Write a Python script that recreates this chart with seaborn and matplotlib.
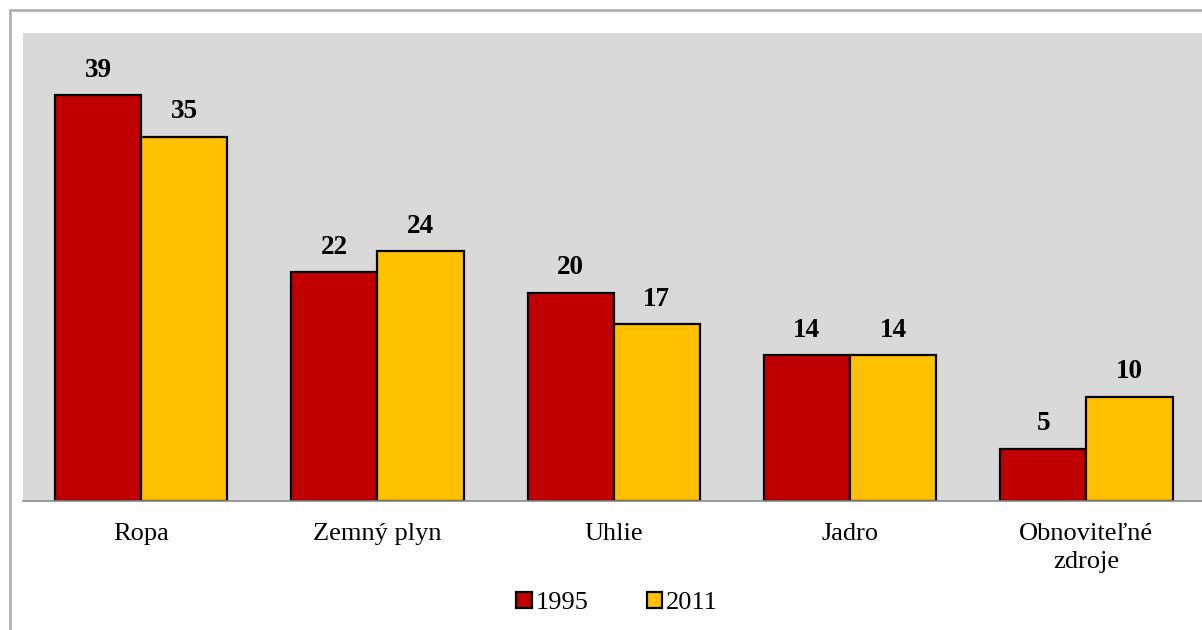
import matplotlib
matplotlib.use('Agg')
import matplotlib.pyplot as plt
import seaborn as sns
import pandas as pd
from matplotlib.patches import Rectangle

# data
categories = ['Ropa', 'Zemný plyn', 'Uhlie', 'Jadro', 'Obnoviteľné\nzdroje']
years = ['1995', '2011']
vals_1995 = [39, 22, 20, 14, 5]
vals_2011 = [35, 24, 17, 14, 10]

df = pd.DataFrame({
    'zdroj': categories * 2,
    'rok': [years[0]] * 5 + [years[1]] * 5,
    'podiel': vals_1995 + vals_2011,
})

sns.set_style('white')
plt.rcParams['font.family'] = ['Liberation Serif', 'DejaVu Serif']
plt.rcParams['text.color'] = 'black'
plt.rcParams['xtick.color'] = 'black'
plt.rcParams['xtick.labelcolor'] = 'black'

W, H = 1202, 630
fig = plt.figure(figsize=(W / 100, H / 100), dpi=100)
# outer chart border
fig.patches.append(Rectangle((10 / W, 0 - 0.01), 1.0, 1 - 10 / H + 0.01,
                             transform=fig.transFigure, fill=False,
                             edgecolor='#b0b0b0', linewidth=2, zorder=0))

ax = fig.add_axes([23 / W, (H - 501) / H, (1204.5 - 23) / W, (501 - 33) / H])
ax.set_facecolor('#d9d9d9')

sns.barplot(data=df, x='zdroj', y='podiel', hue='rok', ax=ax,
            palette=['#c00000', '#ffc000'], edgecolor='black', linewidth=1.6,
            width=0.73, gap=0, saturation=1)

for cont in ax.containers:
    ax.bar_label(cont, padding=9, fontsize=19.5, fontweight='bold', color='black')

ax.set_ylim(0, 45)
ax.set_xlim(-0.5, 4.5)
ax.set_xlabel('')
ax.set_ylabel('')
ax.set_yticks([])
ax.tick_params(axis='x', length=0, pad=16, labelsize=19)
for lbl in ax.get_xticklabels():
    lbl.set_linespacing(1.35)
    lbl.set_color('black')
for s in ['top', 'right', 'left']:
    ax.spines[s].set_visible(False)
ax.spines['bottom'].set_color('#8a8a8a')
ax.spines['bottom'].set_linewidth(1.2)

handles, labels = ax.get_legend_handles_labels()
ax.legend_.remove()
fig.legend(handles, labels, loc='center', bbox_to_anchor=(617 / W, 1 - 603 / H),
           ncol=2, frameon=False, fontsize=19, handlelength=0.6, handleheight=0.6,
           handletextpad=0.15, columnspacing=2.2, labelcolor='black')

fig.savefig('out.png', dpi=100)
